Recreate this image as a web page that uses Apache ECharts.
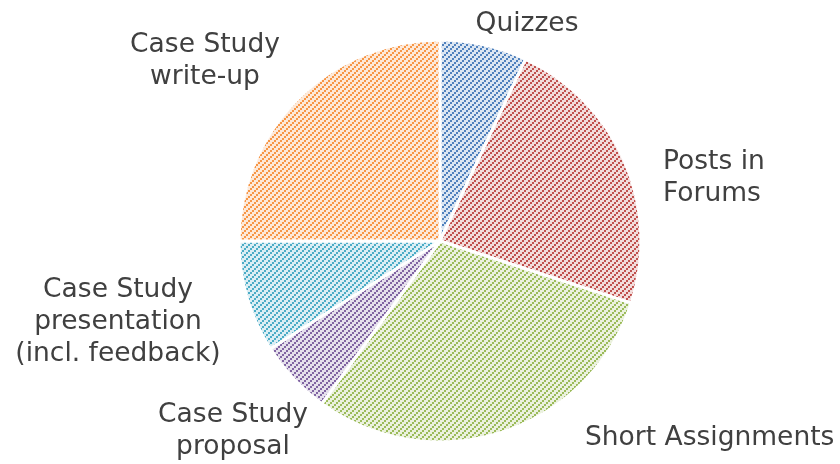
<!DOCTYPE html>
<html>
<head>
<meta charset="utf-8">
<script src="https://cdn.jsdelivr.net/npm/echarts@6/dist/echarts.min.js"></script>
<style>
  html, body { margin: 0; padding: 0; background: #fff; }
  #chart { width: 840px; height: 464px; }
</style>
</head>
<body>
<div id="chart"></div>
<script>
  var categories = ['Quizzes', 'Posts in\nForums', 'Short Assignments', 'Case Study\nproposal', 'Case Study\npresentation\n(incl. feedback)', 'Case Study\nwrite-up'];
  var values = [7, 23, 30, 6, 9, 25];
  var lineColors = ['#4f81bd', '#c0504d', '#9bbb59', '#8064a2', '#4bacc6', '#f79646'];
  var bgColors = ['#dce6f2', '#f2dcdb', '#ebf1de', '#e5e0ec', '#dbeef4', '#fde9d9'];

  // where the labels sit (x, y, text align)
  var labelSpots = [
    [527, 24, 'center'],
    [663, 178, 'left'],
    [585, 438, 'left'],
    [233, 431, 'center'],
    [118, 322, 'center'],
    [205, 61, 'center']
  ];

  // diagonal hatch tile made of 2x2 blocks, like the Excel pattern fill
  function hatch(line, bg) {
    var size = 6;
    var c = document.createElement('canvas');
    c.width = size; c.height = size;
    var ctx = c.getContext('2d');
    ctx.fillStyle = bg;
    ctx.fillRect(0, 0, size, size);
    ctx.fillStyle = line;
    for (var bx = 0; bx < 3; bx++) {
      for (var by = 0; by < 3; by++) {
        if ((bx + by) % 3 === 0) ctx.fillRect(bx * 2, by * 2, 2, 2);
      }
    }
    return c;
  }

  var data = [];
  for (var i = 0; i < values.length; i++) {
    data.push({
      name: categories[i],
      value: values[i],
      itemStyle: { color: { image: hatch(lineColors[i], bgColors[i]), repeat: 'repeat' } }
    });
  }

  var myChart = echarts.init(document.getElementById('chart'));
  var option = {
    animation: false,
    series: [{
      type: 'pie',
      center: [440, 241],
      radius: 201,
      startAngle: 90,
      clockwise: true,
      data: data,
      itemStyle: { borderColor: '#fff', borderWidth: 3 },
      label: {
        show: true,
        position: 'outside',
        color: '#404040',
        fontFamily: 'DejaVu Sans',
        fontSize: 26.5,
        lineHeight: 32,
        align: 'center',
        overflow: 'none'
      },
      labelLine: { show: false },
      labelLayout: function (p) {
        var s = labelSpots[p.dataIndex];
        return { x: s[0], y: s[1], align: s[2], verticalAlign: 'middle' };
      }
    }]
  };
  myChart.setOption(option);
</script>
</body>
</html>
